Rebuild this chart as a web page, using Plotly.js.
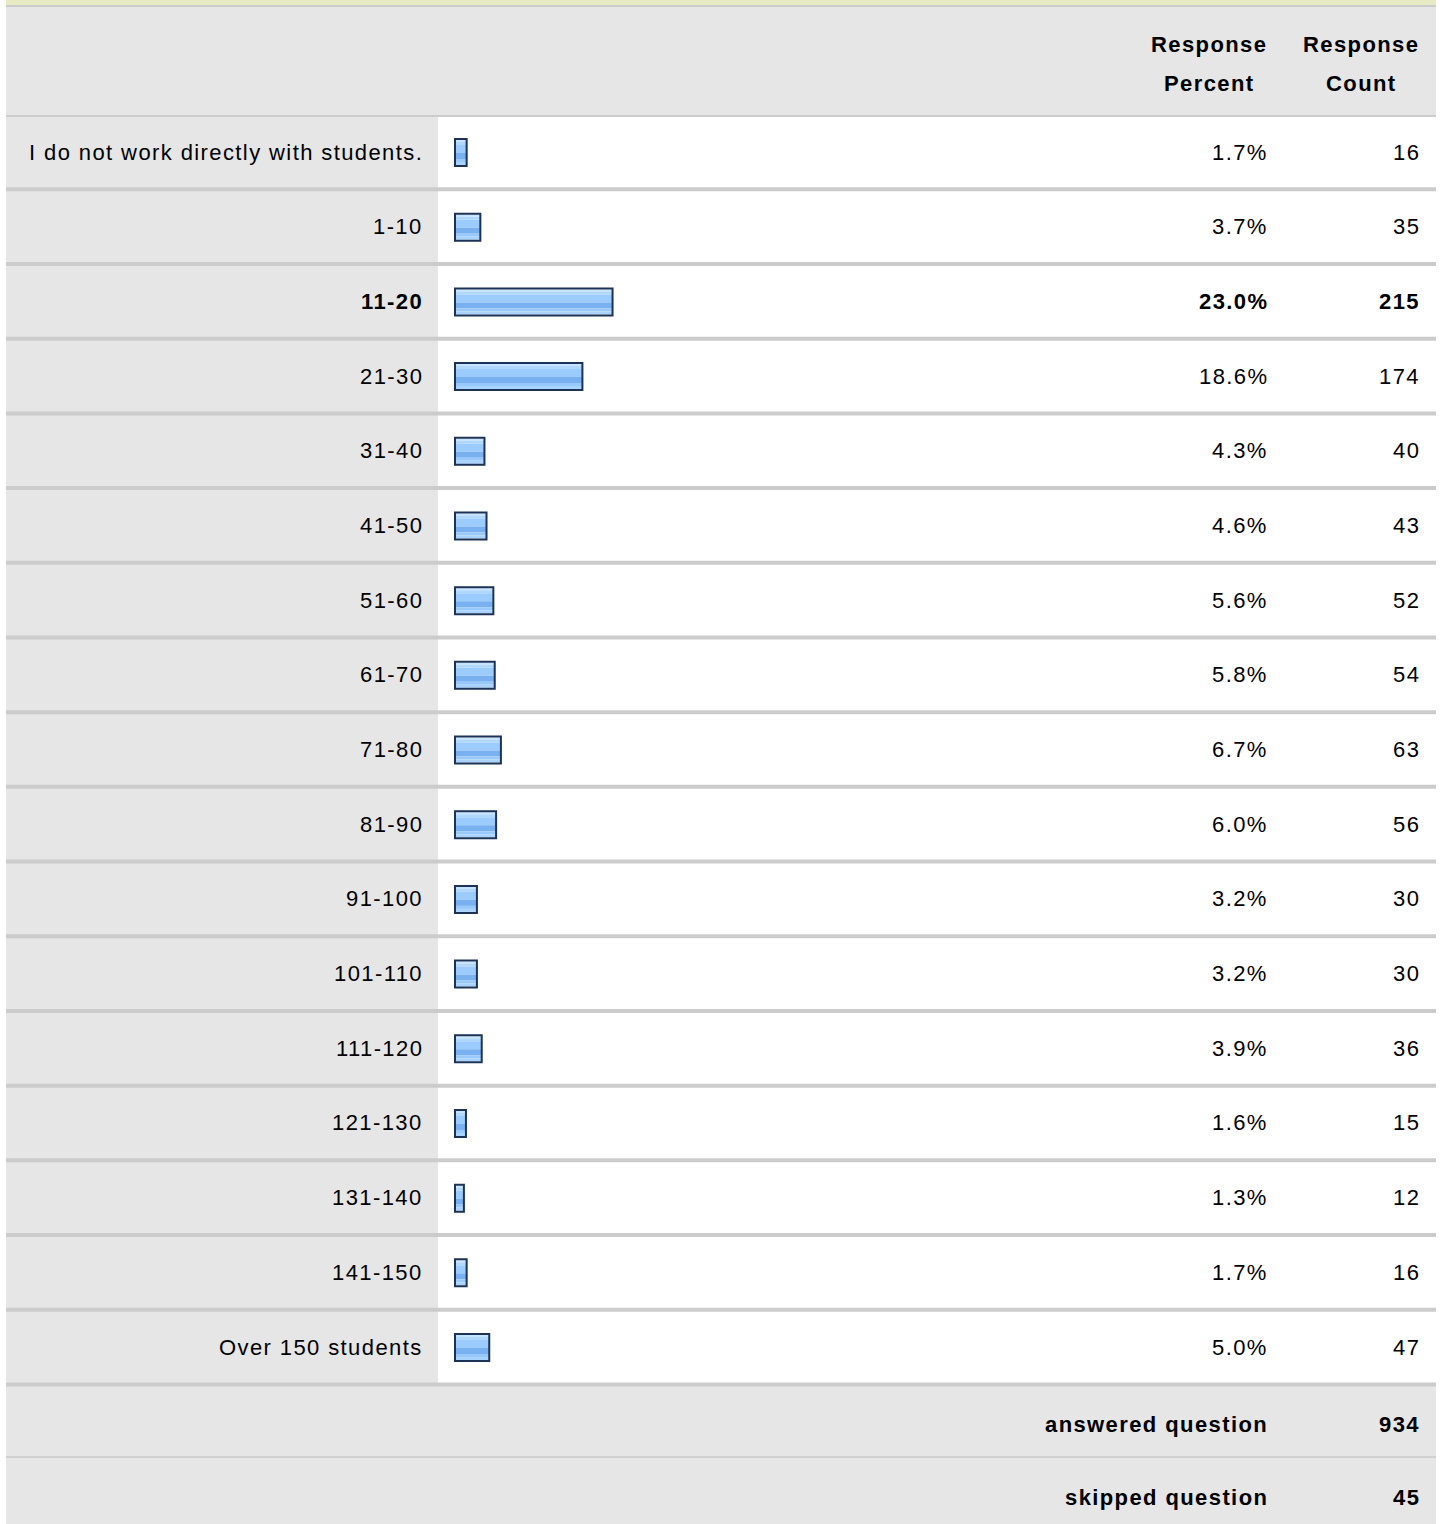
<!DOCTYPE html>
<html>
<head>
<meta charset="utf-8">
<script src="https://cdn.plot.ly/plotly-3.0.1.min.js"></script>
<style>
  html, body { margin: 0; padding: 0; background: #ffffff; }
  #chart { width: 1442px; height: 1524px; }
  svg text { letter-spacing: 1.4px; }
</style>
</head>
<body>
<div id="chart"></div>
<script>
// ---------------- DATA ----------------
const categories = [
  "I do not work directly with students.",
  "1-10", "11-20", "21-30", "31-40", "41-50", "51-60", "61-70", "71-80",
  "81-90", "91-100", "101-110", "111-120", "121-130", "131-140", "141-150",
  "Over 150 students"
];
const responsePercent = [1.7, 3.7, 23.0, 18.6, 4.3, 4.6, 5.6, 5.8, 6.7, 6.0, 3.2, 3.2, 3.9, 1.6, 1.3, 1.7, 5.0];
const responseCount = [16, 35, 215, 174, 40, 43, 52, 54, 63, 56, 30, 30, 36, 15, 12, 16, 47];
const headerPercent = ["Response", "Percent"];
const headerCount = ["Response", "Count"];
const footerLabels = ["answered question", "skipped question"];
const footerValues = [934, 45];

// ---------------- GEOMETRY (pixels) ----------------
const W = 1442, H = 1524;
const ROW0 = 152, PITCH = 74.69;
const LEFT = 6, RIGHT = 1436, LABEL_END = 438;
const PX_PER_UNIT = 6.85, BAR_LEFT_PX = 455;
const LABEL_X = 425, PCT_X = 1270, CNT_X = 1422;
const xp = p => p / W;
const yp = p => 1 - p / H;
const pu = p => p / PITCH; // pixels -> category units

const xRange = [-BAR_LEFT_PX / PX_PER_UNIT, (W - BAR_LEFT_PX) / PX_PER_UNIT];
const yRange = [(H - ROW0) / PITCH, -ROW0 / PITCH];

const FONT = "Liberation Sans, Arial, sans-serif";
const maxIdx = responsePercent.indexOf(Math.max(...responsePercent));

// ---------------- BARS (stripes + border) ----------------
const stripes = [
  { a: -12, b: -10, c: "#c6e3ff" },
  { a: -10, b: -7,  c: "#b0d8ff" },
  { a: -7,  b: 1,   c: "#9ccbff" },
  { a: 1,   b: 7,   c: "#78b0f0" },
  { a: 7,   b: 10,  c: "#98c8fc" },
  { a: 10,  b: 13,  c: "#a8d3ff" }
];
const traces = stripes.map(s => ({
  type: "bar", orientation: "h",
  y: categories, x: responsePercent,
  width: pu(s.b - s.a), offset: pu(s.a),
  marker: { color: s.c, line: { width: 0 } },
  hoverinfo: "skip", showlegend: false
}));
traces.push({
  type: "bar", orientation: "h",
  y: categories, x: responsePercent,
  width: pu(27), offset: pu(-13),
  marker: { color: "rgba(0,0,0,0)", line: { width: 2, color: "#1c3257" } },
  hoverinfo: "skip", showlegend: false
});

// ---------------- BACKGROUND SHAPES ----------------
const rect = (x0, x1, y0, y1, color) => ({
  type: "rect", xref: "paper", yref: "paper", layer: "below",
  x0: xp(x0), x1: xp(x1), y0: yp(y1), y1: yp(y0),
  fillcolor: color, line: { width: 0 }
});
const lastRowBottom = ROW0 + PITCH * (categories.length - 0.5);
const shapes = [
  rect(LEFT, RIGHT, 0, 5, "#e6ebc3"),
  rect(LEFT, RIGHT, 5, 7, "#cccccc"),
  rect(LEFT, RIGHT, 7, 115, "#e6e6e6"),
  rect(LEFT, RIGHT, 115, 117, "#cccccc"),
  rect(LEFT, LABEL_END, 117, lastRowBottom, "#e6e6e6"),
  rect(LEFT, RIGHT, lastRowBottom, H, "#e6e6e6"),
  rect(LEFT, RIGHT, 1456, 1458, "#d0d0d0")
];
for (let i = 0; i < categories.length; i++) {
  const yc = ROW0 + PITCH * (i + 0.5);
  shapes.push(rect(LEFT, RIGHT, yc - 2, yc + 2, "#cccccc"));
}

// ---------------- TEXT ----------------
const txt = (text, x, xanchor, y, yref, bold) => ({
  text: bold ? "<b>" + text + "</b>" : text,
  x: xp(x), xref: "paper", xanchor: xanchor,
  y: y, yref: yref, yanchor: "middle",
  showarrow: false,
  font: { family: FONT, size: 22, color: "#000000" }
});
const annotations = [];
categories.forEach((c, i) => {
  const b = i === maxIdx;
  annotations.push(txt(c, LABEL_X, "right", c, "y", b));
  annotations.push(txt(responsePercent[i].toFixed(1) + "%", PCT_X, "right", c, "y", b));
  annotations.push(txt(String(responseCount[i]), CNT_X, "right", c, "y", b));
});
annotations.push(txt(headerPercent[0], 1209, "center", yp(45), "paper", true));
annotations.push(txt(headerPercent[1], 1209, "center", yp(83), "paper", true));
annotations.push(txt(headerCount[0], 1361, "center", yp(45), "paper", true));
annotations.push(txt(headerCount[1], 1361, "center", yp(83), "paper", true));
annotations.push(txt(footerLabels[0], PCT_X, "right", yp(1424), "paper", true));
annotations.push(txt(String(footerValues[0]), CNT_X, "right", yp(1424), "paper", true));
annotations.push(txt(footerLabels[1], PCT_X, "right", yp(1497), "paper", true));
annotations.push(txt(String(footerValues[1]), CNT_X, "right", yp(1497), "paper", true));

const layout = {
  width: W, height: H,
  margin: { l: 0, r: 0, t: 0, b: 0, pad: 0 },
  paper_bgcolor: "#ffffff", plot_bgcolor: "rgba(0,0,0,0)",
  barmode: "overlay",
  showlegend: false,
  xaxis: { range: xRange, domain: [0, 1], visible: false, fixedrange: true },
  yaxis: {
    type: "category", categoryorder: "array", categoryarray: categories,
    range: yRange, domain: [0, 1], visible: false, fixedrange: true
  },
  shapes: shapes,
  annotations: annotations
};

Plotly.newPlot("chart", traces, layout, { displayModeBar: false, staticPlot: true });
</script>
</body>
</html>
